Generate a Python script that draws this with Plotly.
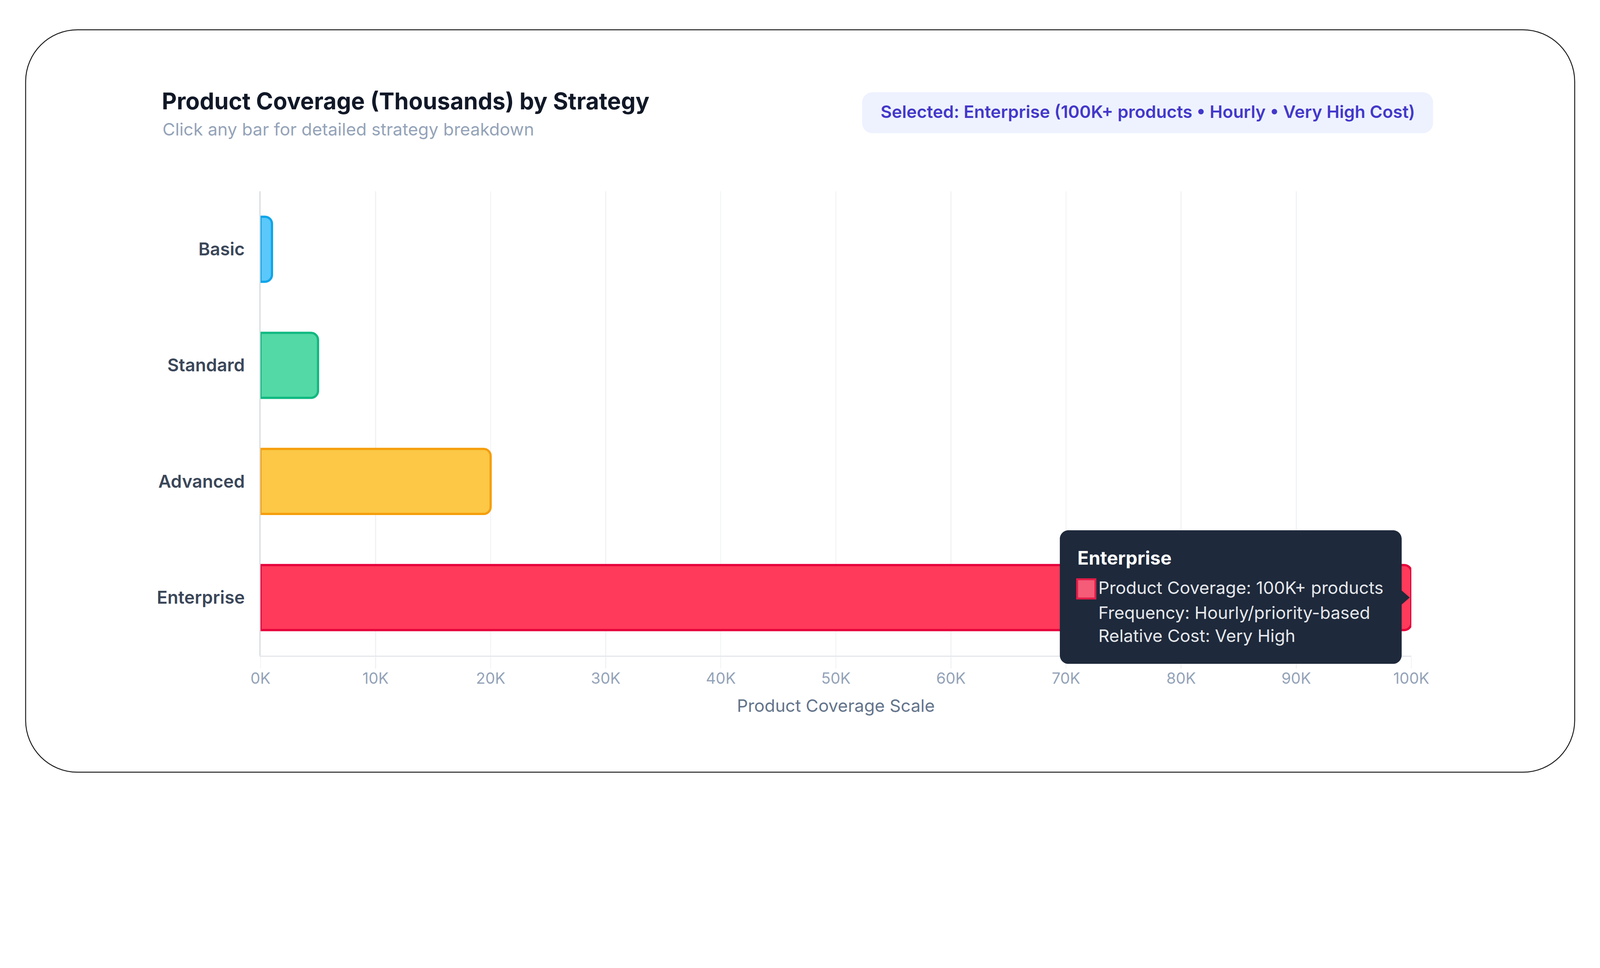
import plotly.graph_objects as go

# data
strategies = ["Basic", "Standard", "Advanced", "Enterprise"]
coverage = [1000, 5000, 20000, 100000]
fill_colors = ["#5ac8fa", "#53d9a5", "#fcc846", "#ff3a5a"]
line_colors = ["#0ea5e9", "#10b981", "#f59e0b", "#e6003a"]

x_tick_values = [0, 10000, 20000, 30000, 40000, 50000, 60000, 70000, 80000, 90000, 100000]
x_tick_labels = ["0K", "10K", "20K", "30K", "40K", "50K", "60K", "70K", "80K", "90K", "100K"]

selected = "Enterprise"
badge_text = "Selected: Enterprise (100K+ products • Hourly • Very High Cost)"
tooltip_lines = [
    "Product Coverage: 100K+ products",
    "Frequency: Hourly/priority-based",
    "Relative Cost: Very High",
]

FONT = "Inter, 'Noto Sans', sans-serif"

# page geometry (pixels)
W, H = 4994, 2479
L, R, T, B = 813, 589, 597, 432
PW = W - L - R
PH = H - T - B
K = 0.5523

x_range = [0, 100000]
y_range = [len(strategies) - 0.5, -0.5]  # reversed: Basic on top


def px(x):
    return (x - L) / PW


def py(y):
    return (H - B - y) / PH


def rounded_rect_paper(x0, y0, x1, y1, r):
    # pixel box (y down) -> svg path in paper coords
    rx, ry = r / PW, r / PH
    a, b, c, d = px(x0), py(y0), px(x1), py(y1)
    kx, ky = rx * (1 - K), ry * (1 - K)
    return (
        f"M{a + rx},{b} L{c - rx},{b} C{c - kx},{b} {c},{b - ky} {c},{b - ry} "
        f"L{c},{d + ry} C{c},{d + ky} {c - kx},{d} {c - rx},{d} "
        f"L{a + rx},{d} C{a + kx},{d} {a},{d + ky} {a},{d + ry} "
        f"L{a},{b - ry} C{a},{b - ky} {a + kx},{b} {a + rx},{b} Z"
    )


def tooltip_path(x0, x1, y0, y1, r, tip, half):
    # pixel offsets from anchor, y up; pointer on the right side
    k = r * (1 - K)
    return (
        f"M{x0 + r},{y1} L{x1 - r},{y1} C{x1 - k},{y1} {x1},{y1 - k} {x1},{y1 - r} "
        f"L{x1},{half} L{tip},0 L{x1},{-half} "
        f"L{x1},{y0 + r} C{x1},{y0 + k} {x1 - k},{y0} {x1 - r},{y0} "
        f"L{x0 + r},{y0} C{x0 + k},{y0} {x0},{y0 + k} {x0},{y0 + r} "
        f"L{x0},{y1 - r} C{x0},{y1 - k} {x0 + k},{y1} {x0 + r},{y1} Z"
    )


fig = go.Figure()
fig.add_trace(go.Bar(
    x=coverage,
    y=strategies,
    orientation="h",
    width=0.56,
    marker=dict(color=fill_colors, line=dict(color=line_colors, width=7)),
    hoverinfo="skip",
    showlegend=False,
))

sel = strategies.index(selected)
sel_x, sel_y = coverage[sel], strategies[sel]
# tooltip anchor in paper units (paper shapes are not clipped to the plot area)
tip_px = (sel_x - x_range[0]) / (x_range[1] - x_range[0])
tip_py = (y_range[0] - sel) / (y_range[0] - y_range[1])

shapes = [
    # outer card frame
    dict(type="path", xref="paper", yref="paper", layer="below",
         path=rounded_rect_paper(80, 93, 4915, 2411, 162),
         line=dict(color="#1f1f1f", width=3), fillcolor="rgba(0,0,0,0)"),
    # selected badge
    dict(type="path", xref="paper", yref="paper", layer="below",
         path=rounded_rect_paper(2691, 288, 4473, 416, 32),
         line=dict(width=0), fillcolor="#eef2ff"),
    # tooltip box
    dict(type="path", xref="paper", yref="paper", xsizemode="pixel", ysizemode="pixel",
         xanchor=tip_px, yanchor=tip_py, layer="above",
         path=tooltip_path(-1097, -30, -207, 210, 27, -5, 22),
         line=dict(width=0), fillcolor="#1e293b"),
    # tooltip colour swatch
    dict(type="rect", xref="paper", yref="paper", xsizemode="pixel", ysizemode="pixel",
         xanchor=tip_px, yanchor=tip_py, layer="above",
         x0=-1043, x1=-986, y0=-3, y1=57,
         line=dict(color="#e11d48", width=6), fillcolor="#f55c78"),
]

annotations = [
    dict(xref="paper", yref="paper", x=px(505), y=py(404), xanchor="left", yanchor="middle",
         text="Click any bar for detailed strategy breakdown", showarrow=False,
         font=dict(family=FONT, size=54, color="#94a3b8")),
    dict(xref="paper", yref="paper", x=px(3582), y=py(349), xanchor="center", yanchor="middle",
         text=badge_text, showarrow=False,
         font=dict(family=FONT, size=54, color="#4338ca", weight=600)),
    dict(xref="x", yref="y", x=sel_x, y=sel_y, xanchor="left", yanchor="middle",
         xshift=-1044, yshift=124, text=selected, showarrow=False,
         font=dict(family=FONT, size=58, color="#ffffff", weight=700)),
]
for line, shift in zip(tooltip_lines, [30, -47, -119]):
    annotations.append(dict(
        xref="x", yref="y", x=sel_x, y=sel_y, xanchor="left", yanchor="middle",
        xshift=-979, yshift=shift, text=line, showarrow=False,
        font=dict(family=FONT, size=54, color="#e5e7eb"),
    ))

fig.update_layout(
    width=W, height=H,
    margin=dict(l=L, r=R, t=T, b=B, pad=0),
    paper_bgcolor="#ffffff", plot_bgcolor="#ffffff",
    font=dict(family=FONT),
    title=dict(text="Product Coverage (Thousands) by Strategy",
               xref="container", yref="container", x=505 / W, y=1 - 316 / H,
               xanchor="left", yanchor="middle",
               font=dict(family=FONT, size=72, color="#111827", weight=700)),
    barcornerradius=22,
    shapes=shapes,
    annotations=annotations,
    hovermode=False,
)

fig.update_xaxes(
    range=x_range,
    tickvals=x_tick_values, ticktext=x_tick_labels,
    showgrid=True, gridcolor="#f0f2f5", gridwidth=3,
    ticks="outside", ticklen=36, tickwidth=3, tickcolor="#f0f2f5",
    showline=True, linecolor="#e5e7eb", linewidth=4,
    zeroline=False,
    ticklabelstandoff=-10,
    tickfont=dict(family=FONT, size=48, color="#94a3b8"),
    title=dict(text="Product Coverage Scale", standoff=40,
               font=dict(family=FONT, size=54, color="#64748b")),
)
fig.update_yaxes(
    categoryorder="array", categoryarray=strategies,
    range=y_range, autorange=False,
    showgrid=False, zeroline=False,
    showline=True, linecolor="#d7dbe0", linewidth=4,
    ticks="", ticklabelstandoff=34,
    tickfont=dict(family=FONT, size=55, color="#3b4759", weight=600),
)

# fit the fixed-size figure to whatever CSS viewport the browser reports
fit_js = (
    "document.documentElement.style.overflow='hidden';"
    "document.body.style.margin='0';document.body.style.overflow='hidden';"
    "var gd=document.getElementById('{plot_id}');"
    "var s=window.innerWidth/" + str(W) + ";"
    "gd.style.transformOrigin='0 0';gd.style.transform='scale('+s+')';"
    "var box=gd.parentNode;box.style.overflow='hidden';"
    "box.style.width=(" + str(W) + "*s)+'px';box.style.height=(" + str(H) + "*s)+'px';"
)
fig.write_html("out.html", post_script=fit_js, config={"displayModeBar": False})
